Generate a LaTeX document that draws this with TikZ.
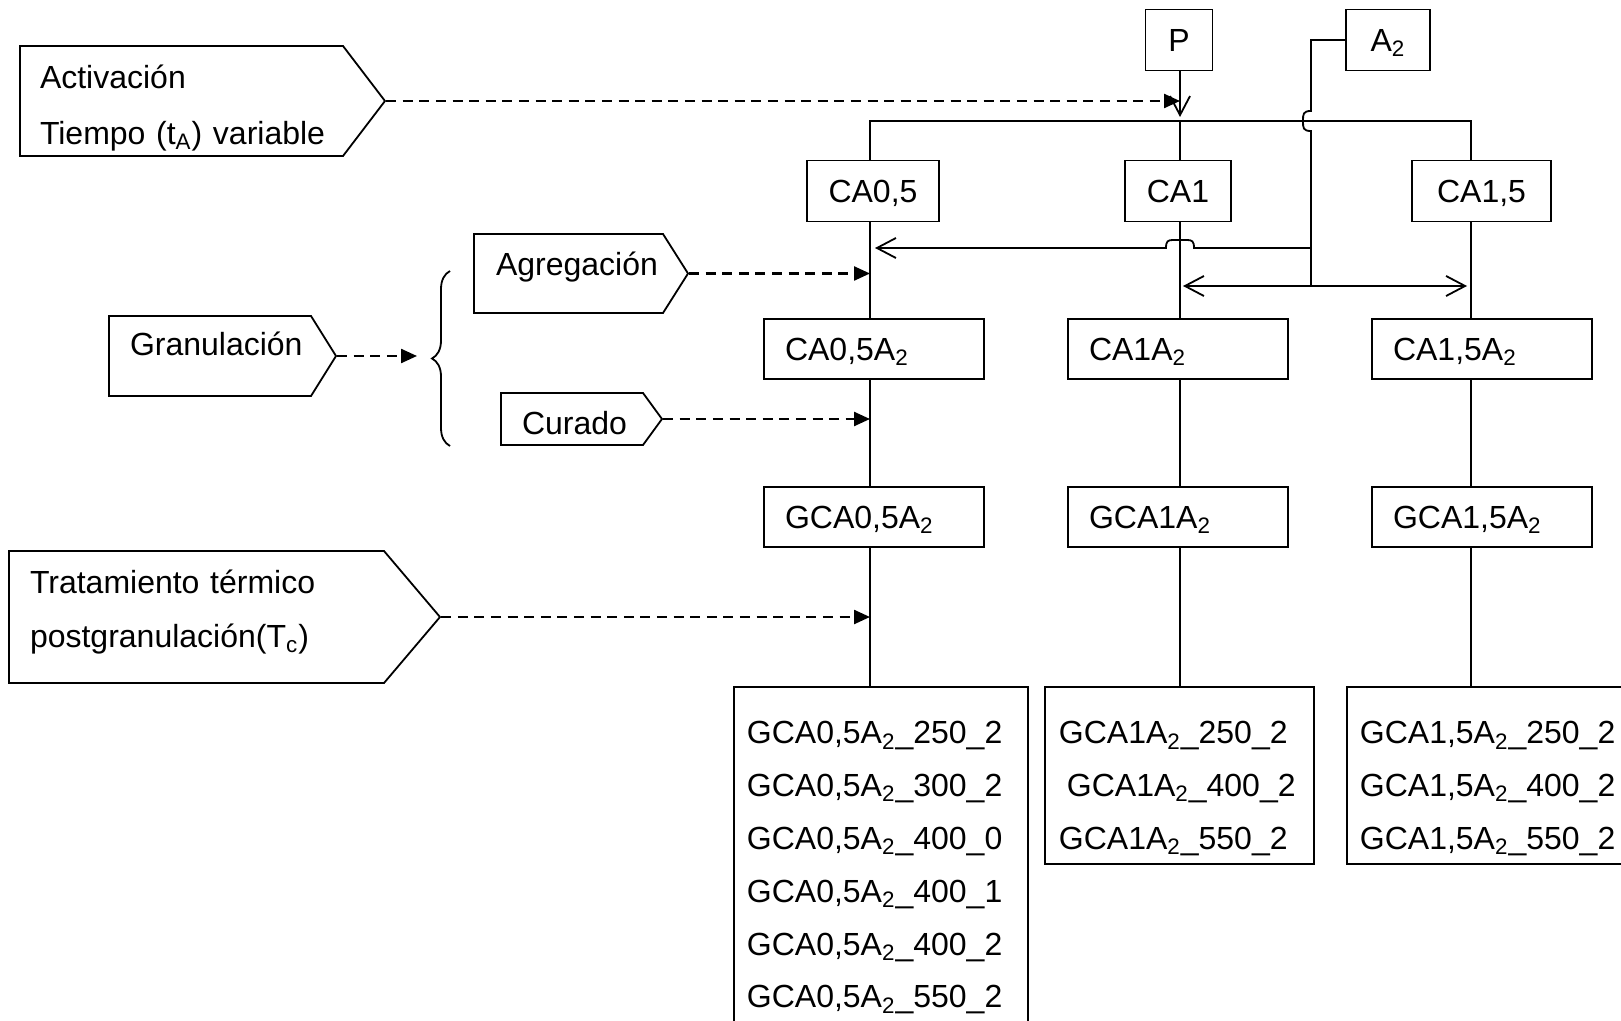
\documentclass[tikz,border=0pt]{standalone}
\usepackage{fontspec}
\setmainfont{Liberation Sans}
\usetikzlibrary{shapes.symbols, arrows.meta, decorations.pathreplacing}
\setlength{\parindent}{0pt}

\newcommand{\Adn}{A\textsubscript{2}}

\tikzset{
  box/.style={draw, inner sep=0pt, minimum height=30.5pt,
    text height=11.5pt, text depth=0pt, font=\fontsize{16}{19}\selectfont},
  wide/.style={box, minimum height=30pt, inner xsep=10.5pt, text width=89pt, align=left},
  tag/.style={draw, signal, signal to=east, inner sep=0pt, align=left,
    font=\fontsize{16}{19}\selectfont},
  list/.style={draw, anchor=north west, inner ysep=0pt, align=left,
    text height=28.5pt, font=\fontsize{16}{26.4}\selectfont},
  flow/.style={line width=1.2pt, dash pattern=on 5pt off 3.3pt, -{Triangle[length=8pt,width=7pt]}}
}

\begin{document}
\begin{tikzpicture}[x=0.5pt, y=-0.5pt, line width=0.9pt,
  >={Straight Barb[length=9.5pt,width=10pt]}]
\useasboundingbox (0,0) rectangle (1621,1021);

% column lines and free ends
\coordinate (col1) at (870,0);
\coordinate (col2) at (1180,0);
\coordinate (col3) at (1471,0);
\coordinate (bus) at (1180,121);
\coordinate (junA) at (1311,248);
\coordinate (junB) at (1311,286);
\coordinate (arrA) at (875,248);
\coordinate (dblL) at (1183,286);
\coordinate (dblR) at (1467,286);
\coordinate (brc) at (417,356);

% stages on the left
\node[tag, text width=141.5pt, inner xsep=10pt, minimum width=182.5pt,
  minimum height=55pt, signal pointer angle=105.3, text height=12pt, text depth=24.5pt,
  font=\fontsize{16}{28}\selectfont] (act) at (181.5,101)
  {Activación\\\mbox{Tiempo (t\textsubscript{A}) variable}};
\node[tag, text width=80pt, inner xsep=10.5pt, minimum width=113.5pt, minimum height=40pt,
  signal pointer angle=116, text height=12pt, text depth=12.5pt] (gran) at (210,356)
  {\mbox{Granulación}};
\node[tag, text width=72.5pt, inner xsep=11pt, minimum width=107pt, minimum height=39.5pt,
  signal pointer angle=115.3, text height=12pt, text depth=10pt] (agr) at (568.5,273.5)
  {\mbox{Agregación}};
\node[tag, text width=50pt, inner xsep=10.5pt, minimum width=80.5pt, minimum height=26pt,
  signal pointer angle=107.7, text height=16pt, text depth=0.5pt] (cur) at (572,419)
  {\mbox{Curado}};
\node[tag, text width=166.5pt, inner xsep=10.5pt, minimum width=215.5pt,
  minimum height=66pt, signal pointer angle=99.4, text height=12pt, text depth=35.7pt,
  font=\fontsize{16}{27.2}\selectfont] (trat) at (196.5,617)
  {Tratamiento térmico\\\mbox{postgranulación(T\textsubscript{c})}};

% top inputs
\node[box, minimum width=33.5pt] (P) at (1179,40) {P};
\node[box, minimum width=42pt] (A2) at (1388,40) {\Adn};

% activated carbons
\node[box, minimum width=66pt] (CA05) at (873,191) {CA0,5};
\node[box, minimum width=53pt] (CA1) at (1178,191) {CA1};
\node[box, minimum width=69.5pt] (CA15) at (1481.5,191) {CA1,5};

\node[wide] (CA05A2) at (874,349) {CA0,5\Adn};
\node[wide] (CA1A2) at (1178,349) {CA1\Adn};
\node[wide] (CA15A2) at (1482,349) {CA1,5\Adn};

\node[wide] (GCA05A2) at (874,517) {GCA0,5\Adn};
\node[wide] (GCA1A2) at (1178,517) {GCA1\Adn};
\node[wide] (GCA15A2) at (1482,517) {GCA1,5\Adn};

% final samples
\node[list, inner xsep=6.5pt, text width=134pt, text depth=150pt] (L05) at (733,686)
  {GCA0,5\Adn\_250\_2\\GCA0,5\Adn\_300\_2\\GCA0,5\Adn\_400\_0\\GCA0,5\Adn\_400\_1\\GCA0,5\Adn\_400\_2\\GCA0,5\Adn\_550\_2};
\node[list, inner xsep=7pt, text width=120.5pt, text depth=60.1pt] (L1) at (1044,686)
  {GCA1\Adn\_250\_2\\\hspace*{4pt}GCA1\Adn\_400\_2\\GCA1\Adn\_550\_2};
\node[list, inner xsep=6.5pt, text width=129pt, text depth=60.1pt] (L15) at (1346,686)
  {GCA1,5\Adn\_250\_2\\GCA1,5\Adn\_400\_2\\GCA1,5\Adn\_550\_2};

% bus from P
\draw[->, shorten >=2pt] (P.south -| col2) -- (bus);
\draw (CA05.north -| col1) |- (bus) -| (CA15.north -| col3);
\draw (bus) -- (CA1.north -| col2);

% columns
\draw (CA05.south -| col1) -- (CA05A2.north -| col1);
\draw (CA05A2.south -| col1) -- (GCA05A2.north -| col1);
\draw (GCA05A2.south -| col1) -- (L05.north -| col1);
\draw (CA1.south -| col2) -- (CA1A2.north -| col2);
\draw (CA1A2.south -| col2) -- (GCA1A2.north -| col2);
\draw (GCA1A2.south -| col2) -- (L1.north -| col2);
\draw (CA15.south -| col3) -- (CA15A2.north -| col3);
\draw (CA15A2.south -| col3) -- (GCA15A2.north -| col3);
\draw (GCA15A2.south -| col3) -- (L15.north -| col3);

% A2 feed, jumping the bus
\draw (A2.west) -| (1311,111) .. controls (1303,111) and (1303,114) .. (1303,121)
  .. controls (1303,128) and (1303,131) .. (1311,131) -- (junB);
\draw[->] (junA) -- (1194,248) .. controls (1194,241) and (1192,240) .. (1187,240)
  -- (1173,240) .. controls (1168,240) and (1166,241) .. (1166,248) -- (arrA);
\draw[<->] (dblL) -- (dblR);

% process steps
\draw[decorate, decoration={brace, amplitude=9pt}] (450,446) -- (450,271);
\draw[flow] (act.east) -- (act.east -| col2);
\draw[flow] (gran.east) -- (gran.east -| brc);
\draw[flow] (agr.east) -- (agr.east -| col1);
\draw[flow] (cur.east) -- (cur.east -| col1);
\draw[flow] (trat.east) -- (trat.east -| col1);
\end{tikzpicture}
\end{document}
